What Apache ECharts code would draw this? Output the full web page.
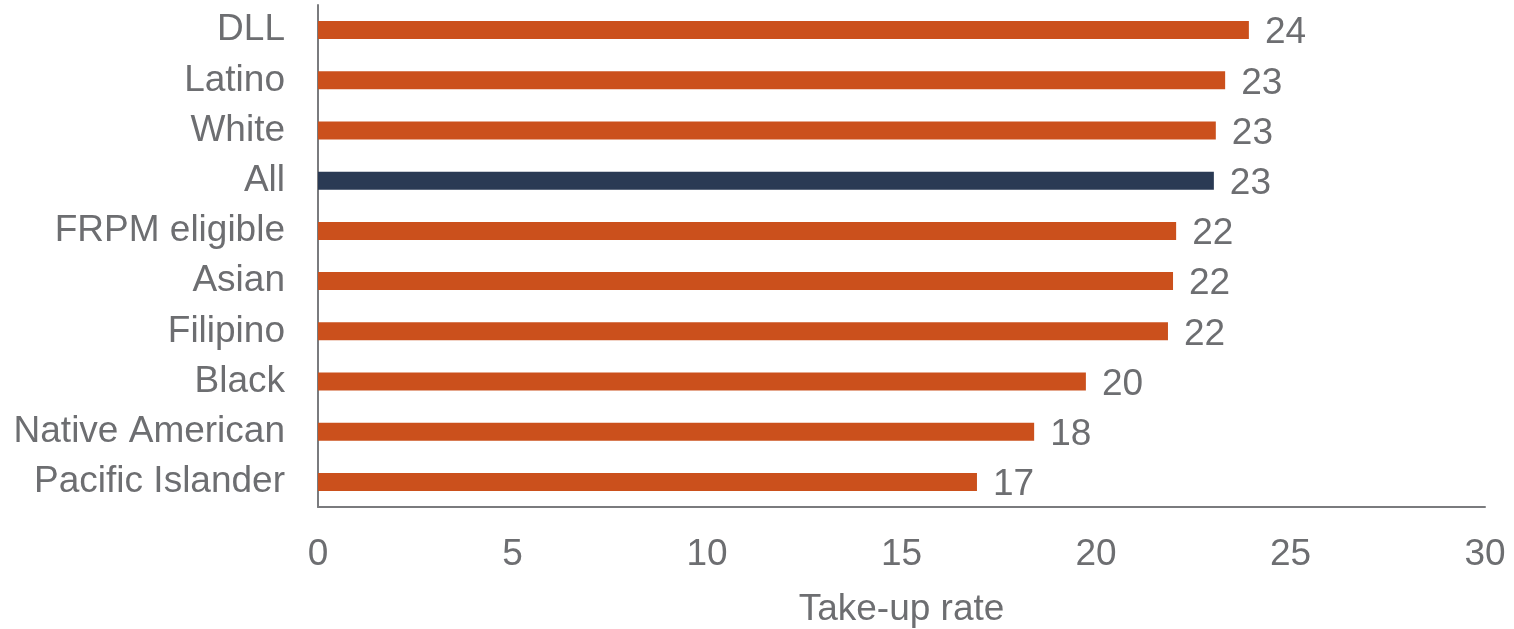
<!DOCTYPE html>
<html>
<head>
<meta charset="utf-8">
<script src="https://cdn.jsdelivr.net/npm/echarts@6/dist/echarts.min.js"></script>
<style>
  html, body { margin: 0; padding: 0; background: #ffffff; }
  #chart { width: 1514px; height: 629px; }
</style>
</head>
<body>
<div id="chart"></div>
<script>
// Student groups, top to bottom
const groups = ['DLL', 'Latino', 'White', 'All', 'FRPM eligible', 'Asian', 'Filipino', 'Black', 'Native American', 'Pacific Islander'];
// Take-up rate (%) for each group
const rates = [23.93, 23.32, 23.08, 23.03, 22.06, 21.98, 21.85, 19.74, 18.41, 16.94];
// Group drawn as the overall reference bar
const highlightGroup = 'All';
// X-axis ticks
const xTicks = [0, 5, 10, 15, 20, 25, 30];
const xTitle = 'Take-up rate';

const ORANGE = '#CB501C';
const NAVY = '#2A3A54';
const TEXT = '#6D6E71';
const AXIS = '#7A7B7E';
const FONT = '"Liberation Sans", Arial, sans-serif';
const FS = 37;

// Category axis runs bottom to top, so reverse for drawing
const cats = groups.slice().reverse();
const vals = rates.slice().reverse();

const chart = echarts.init(document.getElementById('chart'), null, { renderer: 'canvas' });
chart.setOption({
  animation: false,
  backgroundColor: '#ffffff',
  grid: { left: 318, right: 29, top: 5, bottom: 122, containLabel: false, outerBoundsMode: 'none' },
  xAxis: {
    type: 'value',
    min: xTicks[0],
    max: xTicks[xTicks.length - 1],
    interval: xTicks[1] - xTicks[0],
    name: xTitle,
    nameLocation: 'middle',
    nameGap: 84,
    nameTextStyle: { color: TEXT, fontSize: FS, fontFamily: FONT },
    axisLine: { show: true, lineStyle: { color: AXIS, width: 2 } },
    axisTick: { show: false },
    splitLine: { show: false },
    axisLabel: { color: TEXT, fontSize: FS, fontFamily: FONT, margin: 29 }
  },
  yAxis: {
    type: 'category',
    data: cats,
    axisLine: { show: true, lineStyle: { color: AXIS, width: 2 } },
    axisTick: { show: false },
    axisLabel: { color: TEXT, fontSize: FS, fontFamily: FONT, margin: 33, lineHeight: 37, padding: [6, 0, 0, 0] }
  },
  series: [{
    type: 'bar',
    barWidth: 18,
    data: vals.map((v, i) => ({
      value: v,
      itemStyle: { color: cats[i] === highlightGroup ? NAVY : ORANGE }
    })),
    label: {
      show: true,
      position: 'right',
      distance: 16,
      offset: [0, 3],
      color: TEXT,
      fontSize: FS,
      fontFamily: FONT,
      formatter: p => String(Math.round(p.value))
    }
  }]
});
</script>
</body>
</html>
